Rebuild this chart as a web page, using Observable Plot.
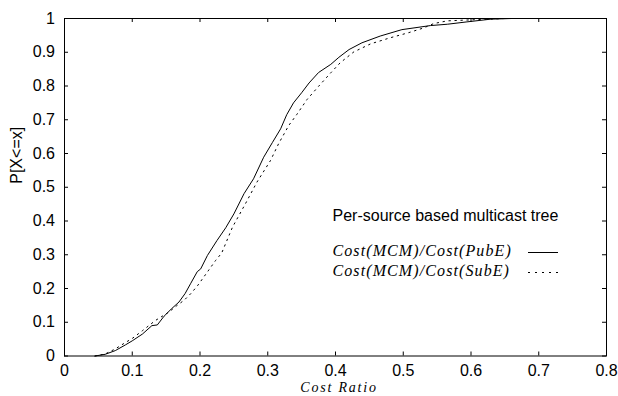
<!DOCTYPE html>
<html>
<head>
<meta charset="utf-8">
<script src="https://cdn.jsdelivr.net/npm/d3@7"></script>
<script src="https://cdn.jsdelivr.net/npm/@observablehq/plot@0.6"></script>
<style>
  html, body { margin: 0; padding: 0; background: #fff; }
  svg { display: block; }
</style>
</head>
<body>
<div id="chart"></div>
<script>
const xTicks = [0, 0.1, 0.2, 0.3, 0.4, 0.5, 0.6, 0.7, 0.8];
const yTicks = [0, 0.1, 0.2, 0.3, 0.4, 0.5, 0.6, 0.7, 0.8, 0.9, 1];

const pubX = [0.045, 0.06, 0.075, 0.09, 0.1, 0.115, 0.129, 0.137, 0.147, 0.158, 0.169, 0.178, 0.186, 0.196, 0.201, 0.211, 0.225, 0.238, 0.25, 0.265, 0.279, 0.294, 0.307, 0.319, 0.328, 0.338, 0.35, 0.361, 0.375, 0.393, 0.405, 0.42, 0.439, 0.466, 0.498, 0.54, 0.565, 0.594, 0.629, 0.66, 0.74];
const pubP = [0, 0.005, 0.016, 0.033, 0.045, 0.065, 0.09, 0.092, 0.118, 0.14, 0.16, 0.185, 0.214, 0.25, 0.258, 0.298, 0.342, 0.38, 0.421, 0.481, 0.525, 0.589, 0.633, 0.673, 0.715, 0.75, 0.78, 0.809, 0.84, 0.864, 0.885, 0.908, 0.928, 0.948, 0.967, 0.979, 0.983, 0.99, 0.998, 1, 1];

const subX = [0.045, 0.06, 0.075, 0.09, 0.1, 0.115, 0.134, 0.154, 0.165, 0.177, 0.187, 0.197, 0.212, 0.223, 0.232, 0.248, 0.267, 0.284, 0.304, 0.316, 0.331, 0.343, 0.358, 0.375, 0.393, 0.407, 0.427, 0.452, 0.481, 0.508, 0.53, 0.545, 0.565, 0.6, 0.65, 0.74];
const subP = [0, 0.006, 0.021, 0.04, 0.052, 0.075, 0.105, 0.13, 0.148, 0.166, 0.186, 0.21, 0.252, 0.283, 0.305, 0.382, 0.451, 0.515, 0.579, 0.629, 0.683, 0.716, 0.76, 0.799, 0.839, 0.869, 0.901, 0.925, 0.943, 0.958, 0.972, 0.985, 0.993, 0.996, 1, 1];

const legendTitle = "Per-source based multicast tree";
const seriesNames = ["Cost(MCM)/Cost(PubE)", "Cost(MCM)/Cost(SubE)"];
const xLabel = "Cost Ratio";
const yLabel = "P[X<=x]";

const pub = pubX.map((x, i) => ({x, p: pubP[i]}));
const sub = subX.map((x, i) => ({x, p: subP[i]}));

const W = 618, H = 396;
const mL = 64, mR = 12, mT = 18, mB = 40.5;
const innerW = W - mL - mR, innerH = H - mT - mB;
const sans = "'Liberation Sans', Arial, Helvetica, sans-serif";
const serif = "'Liberation Serif', 'Times New Roman', serif";

const chart = Plot.plot({
  width: W,
  height: H,
  marginLeft: mL,
  marginRight: mR,
  marginTop: mT,
  marginBottom: mB,
  style: {fontFamily: sans, fontSize: "16px", color: "#000", background: "#fff"},
  x: {domain: [0, 0.8]},
  y: {domain: [0, 1]},
  marks: [
    Plot.axisX({ticks: xTicks, tickSize: 0, tickPadding: 9, tickFormat: d => String(d), label: null, fontSize: 16}),
    Plot.axisY({ticks: yTicks, tickSize: 0, tickPadding: 9.5, tickFormat: d => String(d), label: null, fontSize: 16}),
    // inward ticks on all four sides
    Plot.tickX(xTicks, {x: d => d, insetTop: innerH - 4, stroke: "#000"}),
    Plot.tickX(xTicks, {x: d => d, insetBottom: innerH - 4, stroke: "#000"}),
    Plot.tickY(yTicks, {y: d => d, insetRight: innerW - 4, stroke: "#000"}),
    Plot.tickY(yTicks, {y: d => d, insetLeft: innerW - 4, stroke: "#000"}),
    Plot.line(sub, {x: "x", y: "p", stroke: "#000", strokeWidth: 1, strokeDasharray: "1.5,4.5"}),
    Plot.line(pub, {x: "x", y: "p", stroke: "#000", strokeWidth: 1}),
    Plot.frame({stroke: "#000", strokeWidth: 1}),
    Plot.text([yLabel], {frameAnchor: "left", dx: -48, dy: -3.5, rotate: -90, fontSize: 16, fontFamily: sans, fill: "#000"}),
    Plot.text([xLabel], {frameAnchor: "bottom", lineAnchor: "bottom", dx: 3.5, dy: 36, fontSize: 14, fontFamily: serif, fontStyle: "italic", fill: "#000"}),
    Plot.text([legendTitle], {frameAnchor: "top-left", textAnchor: "start", lineAnchor: "bottom", dx: 268, dy: 202.5, fontSize: 16, fontFamily: sans, fill: "#000"}),
    Plot.text([seriesNames[0]], {frameAnchor: "top-left", textAnchor: "start", lineAnchor: "bottom", dx: 268, dy: 237, fontSize: 16, fontFamily: serif, fontStyle: "italic", fill: "#000"}),
    Plot.text([seriesNames[1]], {frameAnchor: "top-left", textAnchor: "start", lineAnchor: "bottom", dx: 268, dy: 257, fontSize: 16, fontFamily: serif, fontStyle: "italic", fill: "#000"})
  ]
});

const svg = d3.select(chart);
// widen math-italic texts to mimic the TeX math font
svg.selectAll("text").each(function() {
  const t = this.textContent;
  if (seriesNames.includes(t)) this.setAttribute("letter-spacing", "1.1px");
  else if (t === xLabel) this.setAttribute("letter-spacing", "1.8px");
});
// legend line samples
svg.append("line").attr("x1", 528).attr("x2", 558).attr("y1", 252.5).attr("y2", 252.5)
  .attr("stroke", "#000").attr("stroke-width", 1);
svg.append("line").attr("x1", 528).attr("x2", 558).attr("y1", 272.5).attr("y2", 272.5)
  .attr("stroke", "#000").attr("stroke-width", 1).attr("stroke-dasharray", "2,5");

document.getElementById("chart").appendChild(chart);
</script>
</body>
</html>
